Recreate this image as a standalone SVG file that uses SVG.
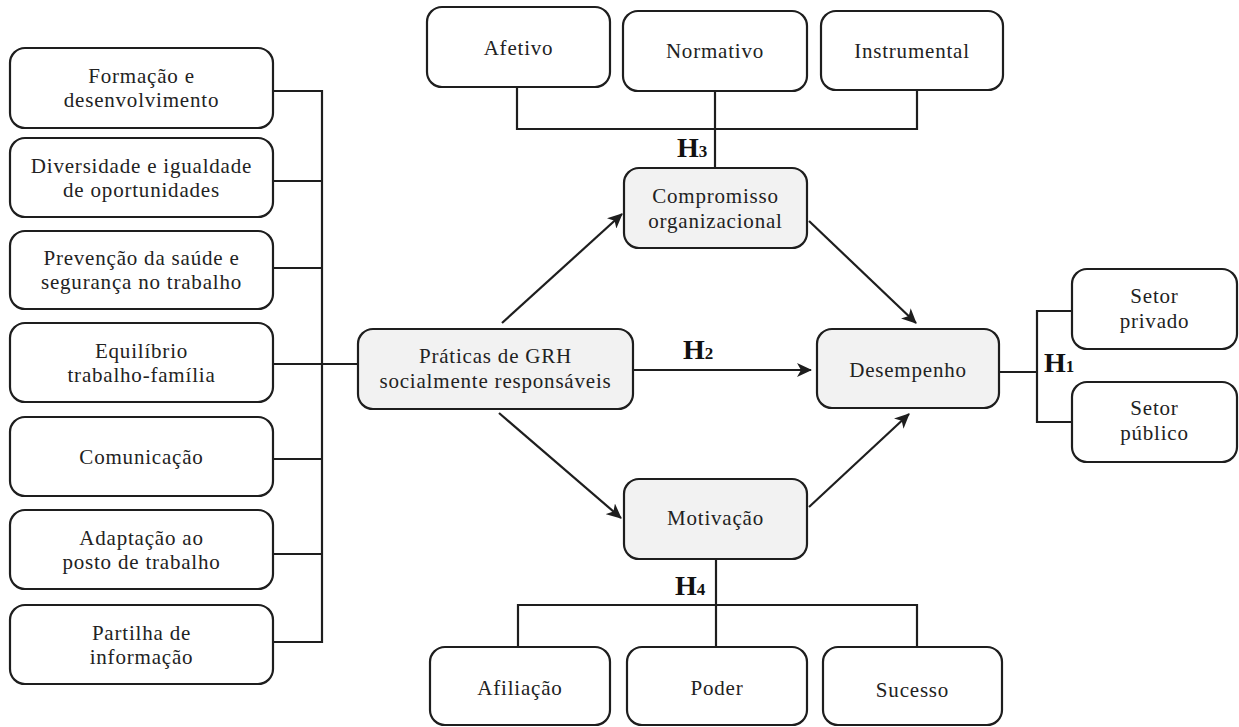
<svg xmlns="http://www.w3.org/2000/svg" width="1239" height="727" viewBox="0 0 1239 727">
<style>
.box{fill:#fff;stroke:#1e1e1e;stroke-width:2.2}
.grey{fill:#f2f2f2}
.lbl{font-family:'Liberation Serif',serif;font-size:21px;letter-spacing:0.8px;fill:#222;text-anchor:middle}
.h{font-family:'Liberation Serif',serif;font-size:28px;font-weight:bold;fill:#111}
.sub{font-size:17px}
.ln{fill:none;stroke:#1e1e1e;stroke-width:2.2}
.ar{fill:none;stroke:#1e1e1e;stroke-width:2.2;marker-end:url(#arr)}
</style>
<defs>
<marker id="arr" markerUnits="userSpaceOnUse" markerWidth="16" markerHeight="14" viewBox="0 0 16 14" refX="14" refY="7" orient="auto">
<path d="M0,0 L15,7 L0,14 L4,7 z" fill="#1e1e1e"/>
</marker>
</defs>
<g id="connectors">
<polyline class="ln" points="273,91 322,91"/>
<polyline class="ln" points="273,181 322,181"/>
<polyline class="ln" points="273,268 322,268"/>
<polyline class="ln" points="273,364 358,364"/>
<polyline class="ln" points="273,459 322,459"/>
<polyline class="ln" points="273,554 322,554"/>
<polyline class="ln" points="273,642 322,642"/>
<line class="ln" x1="322" y1="90" x2="322" y2="643"/>
<polyline class="ln" points="517,87 517,129 917,129 917,90"/>
<line class="ln" x1="715" y1="91" x2="715" y2="168"/>
<polyline class="ln" points="518,647 518,605 917,605 917,647"/>
<line class="ln" x1="716" y1="559" x2="716" y2="647"/>
<line class="ln" x1="999" y1="372" x2="1037" y2="372"/>
<polyline class="ln" points="1072,311 1037,311 1037,422 1072,422"/>
<line class="ar" x1="633" y1="370" x2="811" y2="370"/>
<line class="ar" x1="502" y1="323" x2="622" y2="214"/>
<line class="ar" x1="809" y1="221" x2="916" y2="323"/>
<line class="ar" x1="499" y1="413" x2="621" y2="518"/>
<line class="ar" x1="809" y1="507" x2="909" y2="414"/>
<text class="h" x="677" y="157">H<tspan class="sub">3</tspan></text>
<text class="h" x="683" y="359">H<tspan class="sub">2</tspan></text>
<text class="h" x="1044" y="372">H<tspan class="sub">1</tspan></text>
<text class="h" x="675" y="595">H<tspan class="sub">4</tspan></text>
</g>
<g id="n1"><rect class="box" x="10" y="48" width="263" height="80" rx="15"/><text class="lbl" x="141.5" y="83">Formação e</text><text class="lbl" x="141.5" y="107">desenvolvimento</text></g>
<g id="n2"><rect class="box" x="10" y="138" width="263" height="79" rx="15"/><text class="lbl" x="141.5" y="172.5">Diversidade e igualdade</text><text class="lbl" x="141.5" y="196.5">de oportunidades</text></g>
<g id="n3"><rect class="box" x="10" y="231" width="263" height="78" rx="15"/><text class="lbl" x="141.5" y="265">Prevenção da saúde e</text><text class="lbl" x="141.5" y="289">segurança no trabalho</text></g>
<g id="n4"><rect class="box" x="10" y="323" width="263" height="79" rx="15"/><text class="lbl" x="141.5" y="357.5">Equilíbrio</text><text class="lbl" x="141.5" y="381.5">trabalho-família</text></g>
<g id="n5"><rect class="box" x="10" y="417" width="263" height="79" rx="15"/><text class="lbl" x="141.5" y="464">Comunicação</text></g>
<g id="n6"><rect class="box" x="10" y="510" width="263" height="79" rx="15"/><text class="lbl" x="141.5" y="544.5">Adaptação ao</text><text class="lbl" x="141.5" y="568.5">posto de trabalho</text></g>
<g id="n7"><rect class="box" x="10" y="605" width="263" height="79" rx="15"/><text class="lbl" x="141.5" y="639.5">Partilha de</text><text class="lbl" x="141.5" y="663.5">informação</text></g>
<g id="afetivo"><rect class="box" x="427" y="7" width="183" height="80" rx="15"/><text class="lbl" x="518.5" y="55">Afetivo</text></g>
<g id="normativo"><rect class="box" x="623" y="11" width="184" height="80" rx="15"/><text class="lbl" x="715" y="58">Normativo</text></g>
<g id="instrumental"><rect class="box" x="821" y="11" width="182" height="79" rx="15"/><text class="lbl" x="912" y="58">Instrumental</text></g>
<g id="compromisso"><rect class="box grey" x="624" y="168" width="183" height="80" rx="15"/><text class="lbl" x="715.5" y="203">Compromisso</text><text class="lbl" x="715.5" y="228">organizacional</text></g>
<g id="praticas"><rect class="box grey" x="358" y="329" width="275" height="80" rx="15"/><text class="lbl" x="495.5" y="363">Práticas de GRH</text><text class="lbl" x="495.5" y="388">socialmente responsáveis</text></g>
<g id="desempenho"><rect class="box grey" x="817" y="329" width="182" height="79" rx="15"/><text class="lbl" x="908" y="377">Desempenho</text></g>
<g id="motivacao"><rect class="box grey" x="624" y="479" width="183" height="80" rx="15"/><text class="lbl" x="715.5" y="525">Motivação</text></g>
<g id="privado"><rect class="box" x="1072" y="269" width="165" height="80" rx="15"/><text class="lbl" x="1154.5" y="303">Setor</text><text class="lbl" x="1154.5" y="328">privado</text></g>
<g id="publico"><rect class="box" x="1072" y="382" width="165" height="80" rx="15"/><text class="lbl" x="1154.5" y="415">Setor</text><text class="lbl" x="1154.5" y="440">público</text></g>
<g id="afiliacao"><rect class="box" x="430" y="647" width="180" height="78" rx="15"/><text class="lbl" x="520" y="695">Afiliação</text></g>
<g id="poder"><rect class="box" x="627" y="647" width="180" height="78" rx="15"/><text class="lbl" x="717" y="695">Poder</text></g>
<g id="sucesso"><rect class="box" x="823" y="647" width="179" height="78" rx="15"/><text class="lbl" x="912.5" y="697">Sucesso</text></g>
</svg>
